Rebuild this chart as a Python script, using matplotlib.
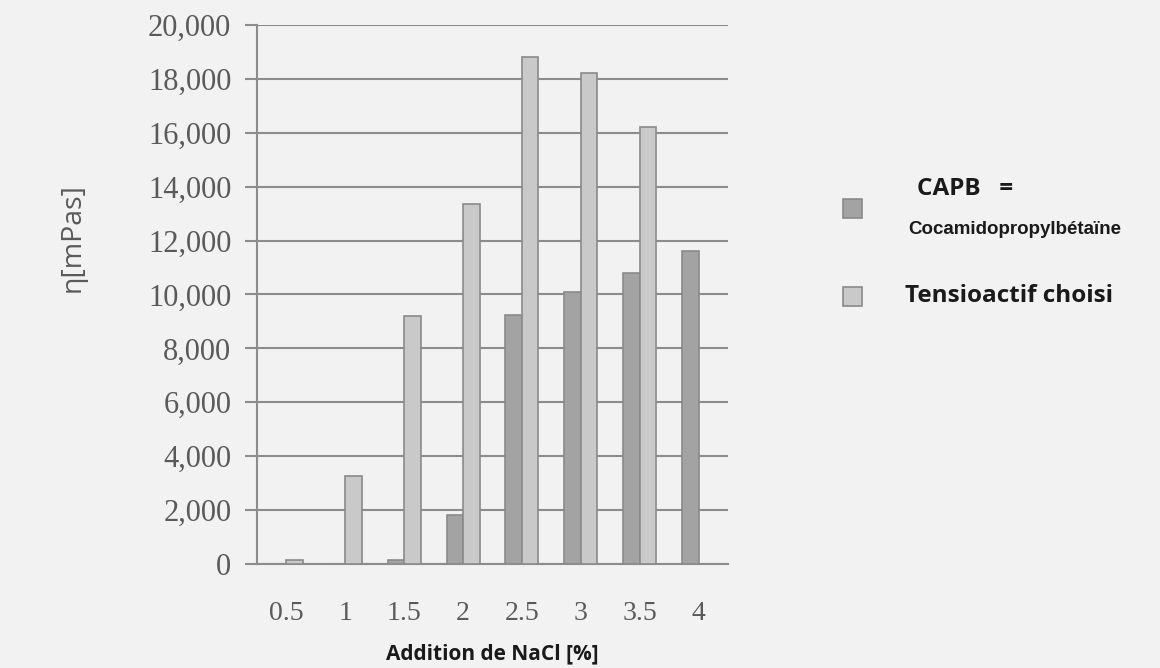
import matplotlib
matplotlib.use("Agg")
import matplotlib.pyplot as plt
from matplotlib.patches import Rectangle
from matplotlib.ticker import FuncFormatter
import numpy as np

categories = ["0.5", "1", "1.5", "2", "2.5", "3", "3.5", "4"]
capb = [0, 0, 150, 1800, 9250, 10100, 10800, 11600]
tensioactif = [150, 3250, 9200, 13350, 18800, 18200, 16200, 0]
yticks = list(range(0, 20001, 2000))

bg = "#f2f2f2"
dark = "#a3a3a3"
light = "#c9c9c9"
edge = "#8a8a8a"
grid = "#8c8c8c"
txt = "#5a5a5a"

fig = plt.figure(figsize=(11.6, 6.68), dpi=100, facecolor=bg)
ax = fig.add_axes([0.2216, 0.1557, 0.4060, 0.8069], facecolor=bg)

x = np.arange(len(categories))
w = 0.28
ax.bar(x - w/2, capb, width=w, color=dark, edgecolor=edge, linewidth=1.2, zorder=3)
ax.bar(x + w/2, tensioactif, width=w, color=light, edgecolor=edge, linewidth=1.2, zorder=3)

ax.set_xlim(-0.5, len(categories) - 0.5)
ax.set_ylim(0, 20000)
ax.set_yticks(yticks)
ax.yaxis.set_major_formatter(FuncFormatter(lambda v, p: f"{int(v):,}"))
ax.set_xticks(x)
ax.set_xticklabels(categories)
ax.grid(axis="y", color=grid, linewidth=1.5, zorder=1)
ax.set_axisbelow(True)
for s in ["top", "right"]:
    ax.spines[s].set_visible(False)
for s in ["left", "bottom"]:
    ax.spines[s].set_color(grid)
    ax.spines[s].set_linewidth(1.5)
ax.tick_params(axis="y", direction="out", length=8.5, width=1.5, color=grid, pad=10,
               labelsize=22, labelcolor=txt)
ax.tick_params(axis="x", length=0, pad=27, labelsize=20, labelcolor=txt)
for lab in ax.get_xticklabels() + ax.get_yticklabels():
    lab.set_fontfamily("Liberation Serif")

ax.set_xlabel("Addition de NaCl [%]", fontsize=15, fontweight="bold",
              fontfamily="Open Sans", color="#1a1a1a", labelpad=12)
fig.text(73/1160, 1 - 238/668, "η[mPas]", rotation=90, ha="center", va="center",
         fontsize=20.5, fontfamily="Open Sans", color=txt)

# legend
for yc, col in [(208, dark), (296, light)]:
    fig.add_artist(Rectangle((843/1160, 1 - (yc + 9.5)/668), 19/1160, 19/668,
                             transform=fig.transFigure, facecolor=col,
                             edgecolor=edge, linewidth=1.2))
fig.text(917/1160, 1 - 189/668, "CAPB   =", fontsize=17.5, fontweight="bold",
         fontfamily="Open Sans", color="#1a1a1a", va="center", ha="left")
fig.text(908/1160, 1 - 229/668, "Cocamidopropylbétaïne", fontsize=13.5, fontweight="bold",
         fontfamily="Liberation Sans", color="#1a1a1a", va="center", ha="left")
fig.text(905/1160, 1 - 296/668, "Tensioactif choisi", fontsize=17.5, fontweight="bold",
         fontfamily="Open Sans", color="#1a1a1a", va="center", ha="left")

fig.savefig("out.png", dpi=100, facecolor=bg)
